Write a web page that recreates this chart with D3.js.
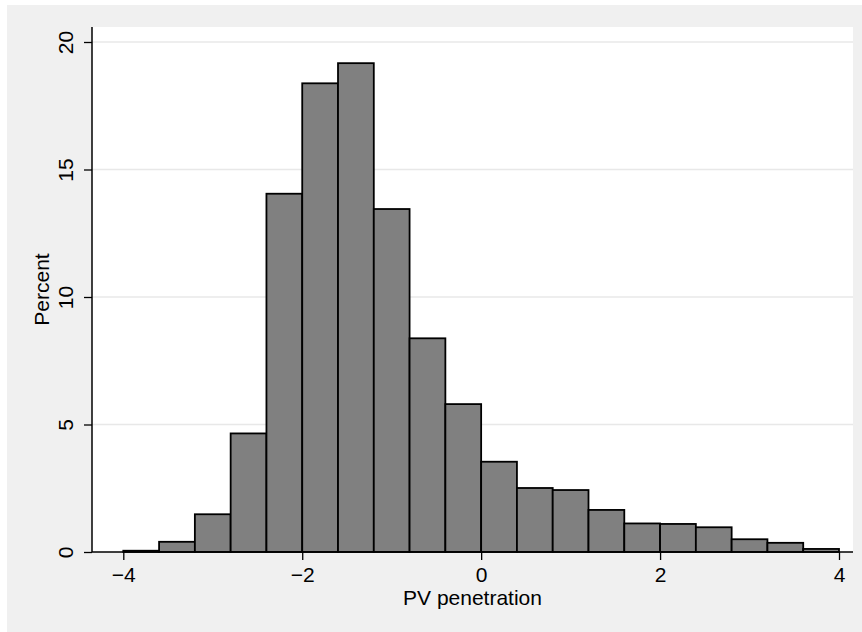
<!DOCTYPE html>
<html>
<head>
<meta charset="utf-8">
<script src="https://cdn.jsdelivr.net/npm/d3@7"></script>
<style>
  body { margin: 0; background: #ffffff; }
  svg { display: block; }
  text { font-family: "Liberation Sans", Arial, sans-serif; fill: #000; }
</style>
</head>
<body>
<svg id="chart" width="862" height="632"></svg>
<script>
// histogram bins: left edge, right edge, percent
const binStarts = [-4.0, -3.6, -3.2, -2.8, -2.4, -2.0, -1.6, -1.2, -0.8, -0.4, 0.0, 0.4, 0.8, 1.2, 1.6, 2.0, 2.4, 2.8, 3.2, 3.6];
const binEnds   = [-3.6, -3.2, -2.8, -2.4, -2.0, -1.6, -1.2, -0.8, -0.4, 0.0, 0.4, 0.8, 1.2, 1.6, 2.0, 2.4, 2.8, 3.2, 3.6, 4.0];
const percents  = [0.05, 0.4, 1.48, 4.65, 14.05, 18.38, 19.17, 13.45, 8.38, 5.8, 3.54, 2.51, 2.43, 1.65, 1.12, 1.1, 0.97, 0.5, 0.36, 0.12];
const xTicks = [-4, -2, 0, 2, 4];
const yTicks = [0, 5, 10, 15, 20];

const svg = d3.select("#chart");
const width = +svg.attr("width");
const height = +svg.attr("height");

const plot = { left: 92, right: 853, top: 27, bottom: 552 };
const fontSize = "21px";

const x = d3.scaleLinear().domain([-4, 4]).range([123.3, 839]);
const y = d3.scaleLinear().domain([0, 20]).range([plot.bottom, 42]);

const bins = percents.map((p, i) => ({ x0: binStarts[i], x1: binEnds[i], value: p }));

// outer graph region
svg.append("rect")
  .attr("x", 7).attr("y", 5)
  .attr("width", width - 7).attr("height", height - 5)
  .attr("fill", "#f0f0f0");

// plot region
svg.append("rect")
  .attr("x", plot.left).attr("y", plot.top)
  .attr("width", plot.right - plot.left).attr("height", plot.bottom - plot.top)
  .attr("fill", "#ffffff");

// gridlines
svg.append("g")
  .selectAll("line")
  .data(yTicks.filter(d => d > 0))
  .enter()
  .append("line")
  .attr("x1", plot.left).attr("x2", plot.right)
  .attr("y1", d => y(d)).attr("y2", d => y(d))
  .attr("stroke", "#e8e8e8")
  .attr("stroke-width", 1.5);

// bars
svg.append("g")
  .selectAll("rect")
  .data(bins)
  .enter()
  .append("rect")
  .attr("x", d => x(d.x0))
  .attr("y", d => y(d.value))
  .attr("width", d => x(d.x1) - x(d.x0))
  .attr("height", d => y(0) - y(d.value))
  .attr("fill", "#808080")
  .attr("stroke", "#000")
  .attr("stroke-width", 1.8);

// y axis
const yAxis = svg.append("g")
  .attr("transform", `translate(${plot.left},0)`)
  .call(d3.axisLeft(y).tickValues(yTicks).tickSize(8).tickPadding(0).tickFormat(d3.format("d")));
yAxis.select(".domain").remove();
yAxis.selectAll(".tick line").attr("stroke", "#000").attr("stroke-width", 1.3);
yAxis.selectAll(".tick text")
  .attr("x", null).attr("dy", null)
  .attr("transform", "translate(-19,0) rotate(-90)")
  .attr("text-anchor", "middle")
  .style("font-size", fontSize);
yAxis.append("line")
  .attr("x1", 0).attr("x2", 0)
  .attr("y1", plot.top).attr("y2", plot.bottom)
  .attr("stroke", "#000").attr("stroke-width", 1.5);

// x axis
const xAxis = svg.append("g")
  .attr("transform", `translate(0,${plot.bottom})`)
  .call(d3.axisBottom(x).tickValues(xTicks).tickSize(8).tickPadding(4).tickFormat(d => d < 0 ? "\u2212" + Math.abs(d) : d));
xAxis.select(".domain").remove();
xAxis.selectAll(".tick line").attr("stroke", "#000").attr("stroke-width", 1.3);
xAxis.selectAll(".tick text")
  .attr("y", 30).attr("dy", null)
  .style("font-size", fontSize);
xAxis.append("line")
  .attr("x1", plot.left).attr("x2", plot.right)
  .attr("y1", 0).attr("y2", 0)
  .attr("stroke", "#000").attr("stroke-width", 1.5);

// axis titles
svg.append("text")
  .attr("x", (plot.left + plot.right) / 2)
  .attr("y", 605)
  .attr("text-anchor", "middle")
  .style("font-size", fontSize)
  .text("PV penetration");

svg.append("text")
  .attr("transform", `translate(49,${(plot.top + plot.bottom) / 2}) rotate(-90)`)
  .attr("text-anchor", "middle")
  .style("font-size", fontSize)
  .text("Percent");
</script>
</body>
</html>
